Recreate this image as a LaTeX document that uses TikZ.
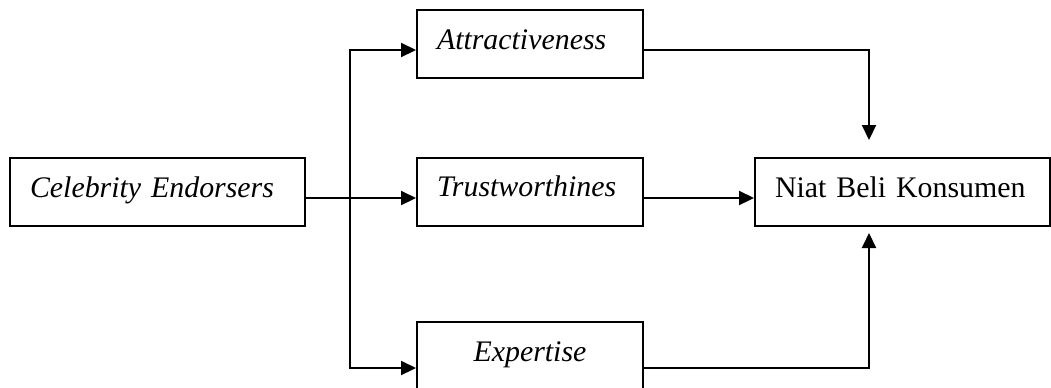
\documentclass[tikz,border=0pt]{standalone}
\usepackage{fontspec}
\setmainfont{Liberation Serif}
\usepackage{tikz}
\usetikzlibrary{arrows.meta,calc}

\begin{document}
\begin{tikzpicture}[x=0.02cm,y=-0.02cm,
  box/.style={draw,line width=0.04cm,inner xsep=0.4cm,inner ysep=0pt,
    text height=0.78cm,text depth=0.58cm,align=left,
    font=\fontsize{17}{20}\selectfont},
  line/.style={line width=0.04cm},
  arrow/.style={line width=0.04cm,-{Triangle[length=0.3cm,width=0.28cm]}}]
\clip (0,0) rectangle (1051,387);
\node[box,text width=5.1cm] (celeb) at (157.5,192) {\itshape Celebrity Endorsers};
\node[box,text width=3.72cm] (attr) at (530,44) {\itshape Attractiveness};
\node[box,text width=3.72cm] (trust) at (530,191.5) {\itshape Trustworthines};
\node[box,text width=3.72cm,align=center] (expe) at (530,356) {\itshape Expertise};
\node[box,text width=5.1cm] (niat) at (902.5,192) {Niat Beli Konsumen};
% cabang kiri
\coordinate (fork) at (350,198);
\draw[line] (celeb.east |- fork) -- (fork);
\draw[arrow] (fork) -- (trust.west |- fork);
\draw[arrow] (fork) |- ([yshift=-0.12cm]attr.west);
\draw[arrow] (fork) |- ([yshift=-0.24cm]expe.west);
% ke niat beli
\coordinate (inA) at (869,140);
\coordinate (inE) at (869,233);
\draw[arrow] ([yshift=-0.12cm]attr.east) -| (inA);
\draw[arrow] (trust.east |- fork) -- (niat.west |- fork);
\draw[arrow] ([yshift=-0.24cm]expe.east) -| (inE);
\end{tikzpicture}
\end{document}
